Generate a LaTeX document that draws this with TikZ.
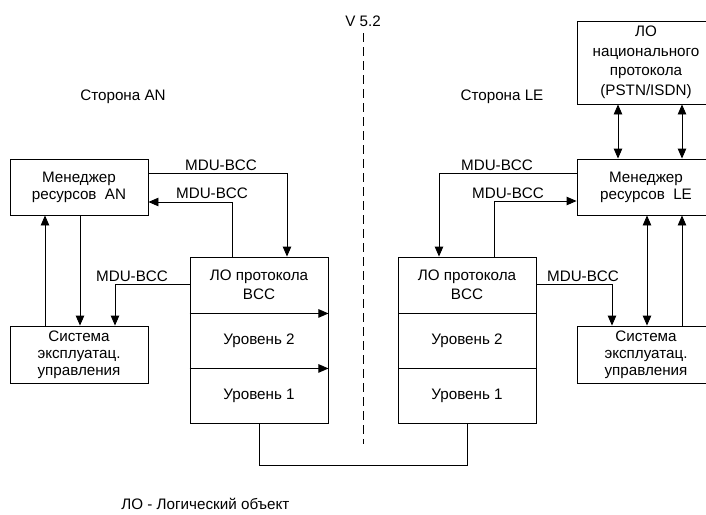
\documentclass[tikz,border=0pt]{standalone}
\usepackage{fontspec}
\setmainfont{Liberation Sans}
\usetikzlibrary{arrows.meta,calc}
\begin{document}
\begin{tikzpicture}[x=1pt,y=-1pt,
  line width=0.9pt,
  every node/.style={font=\fontsize{15.2}{17}\selectfont},
  blk/.style={draw,rectangle,minimum width=138pt,inner sep=0pt,align=center},
  arr/.style={-{Triangle[length=10pt,width=8.5pt]}},
  dbl/.style={{Triangle[length=10pt,width=8.5pt]}-{Triangle[length=10pt,width=8.5pt]}},
  lbl/.style={inner sep=0pt}]
\clip (0,0) rectangle (706,514);
\fill[white] (0,0) rectangle (706,514);

% AN side blocks
\node[blk,minimum height=56pt] (mgrAN) at (79,187) {Менеджер\\ресурсов~ AN};
\node[blk,minimum height=57pt] (sysAN) at (79,354.5) {Система\\эксплуатац.\\управления};
\node[blk,minimum height=56pt,font=\fontsize{15.2}{19}\selectfont] (bccAN) at (259,285) {ЛО протокола\\BCC};
\node[blk,minimum height=55pt] (l2AN) at (259,340.5) {Уровень 2};
\node[blk,minimum height=55pt] (l1AN) at (259,395.5) {Уровень 1};

% LE side blocks
\node[blk,minimum height=56pt,font=\fontsize{15.2}{19}\selectfont] (bccLE) at (467,285) {ЛО протокола\\BCC};
\node[blk,minimum height=55pt] (l2LE) at (467,340.5) {Уровень 2};
\node[blk,minimum height=55pt] (l1LE) at (467,395.5) {Уровень 1};
\node[blk,minimum height=56pt] (mgrLE) at (646,187) {Менеджер\\ресурсов~ LE};
\node[blk,minimum height=57pt] (sysLE) at (646,354.5) {Система\\эксплуатац.\\управления};
\node[blk,minimum height=83pt,font=\fontsize{15.2}{19.5}\selectfont] (natLE) at (646,62.5)
  {ЛО\\национального\\протокола\\(PSTN/ISDN)};

% bend points
\coordinate (xA1) at (287,173);
\coordinate (xA2) at (232,202);
\coordinate (xA3) at (115,284);
\coordinate (xA4) at (80,0);
\coordinate (xA5) at (45,0);
\coordinate (xB1) at (439,173);
\coordinate (xB2) at (494,201);
\coordinate (xB3) at (612,284);
\coordinate (xB4) at (647,0);
\coordinate (xB5) at (682,0);
\coordinate (xB6) at (618,0);

% AN side connectors
\draw[arr] (mgrAN.east |- xA1) -| (bccAN.north -| xA1);
\draw[arr] (bccAN.north -| xA2) |- (mgrAN.east |- xA2);
\draw[arr] (bccAN.west |- xA3) -| (sysAN.north -| xA3);
\draw[arr] (mgrAN.south -| xA4) -- (sysAN.north -| xA4);
\draw[arr] (sysAN.north -| xA5) -- (mgrAN.south -| xA5);
\draw[arr] (bccAN.south west) -- (bccAN.south east);
\draw[arr] (l2AN.south west) -- (l2AN.south east);

% LE side connectors
\draw[arr] (mgrLE.west |- xB1) -| (bccLE.north -| xB1);
\draw[arr] (bccLE.north -| xB2) |- (mgrLE.west |- xB2);
\draw[arr] (bccLE.east |- xB3) -| (sysLE.north -| xB3);
\draw[dbl] (mgrLE.south -| xB4) -- (sysLE.north -| xB4);
\draw[arr] (sysLE.north -| xB5) -- (mgrLE.south -| xB5);
\draw[dbl] (natLE.south -| xB6) -- (mgrLE.north -| xB6);
\draw[dbl] (natLE.south -| xB5) -- (mgrLE.north -| xB5);

% physical link between the two level-1 blocks
\draw (l1AN.south) -- ++(0,42) -| (l1LE.south);

% V5.2 interface line
\coordinate (vtop) at (363,33);
\coordinate (vbot) at (363,444);
\draw[dash pattern=on 9pt off 5pt] (vtop) -- (vbot);
\node[lbl] (vlab) at (363,21) {V 5.2};

% labels
\node[lbl] (lA1) at (221,165) {MDU-BCC};
\node[lbl] (lA2) at (212,193) {MDU-BCC};
\node[lbl] (lA3) at (132,276) {MDU-BCC};
\node[lbl] (lB1) at (497,165) {MDU-BCC};
\node[lbl] (lB2) at (508,193) {MDU-BCC};
\node[lbl] (lB3) at (583,276) {MDU-BCC};
\node[lbl] (sideAN) at (123,97) {Сторона AN};
\node[lbl] (sideLE) at (502,97) {Сторона LE};
\node[lbl,anchor=west] (note) at (121,504) {ЛО - Логический объект};
\end{tikzpicture}
\end{document}
